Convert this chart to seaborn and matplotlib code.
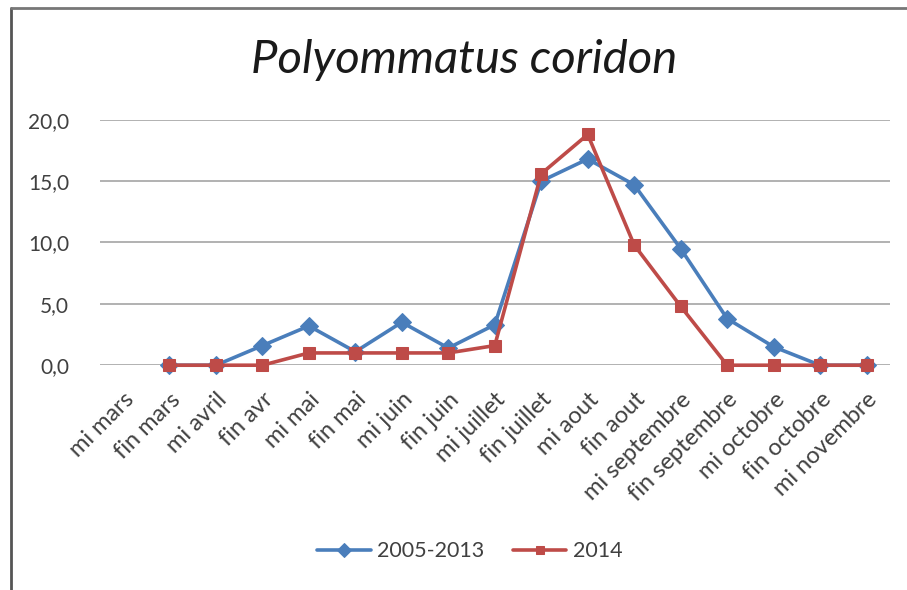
import numpy as np
import pandas as pd
import matplotlib
matplotlib.use("Agg")
import matplotlib.pyplot as plt
from matplotlib.lines import Line2D
import seaborn as sns

# data
periods = ["mi mars", "fin mars", "mi avril", "fin avr", "mi mai", "fin mai",
           "mi juin", "fin juin", "mi juillet", "fin juillet", "mi aout",
           "fin aout", "mi septembre", "fin septembre", "mi octobre",
           "fin octobre", "mi novembre"]
avg_2005_2013 = [np.nan, 0.0, 0.0, 1.6, 3.2, 1.1, 3.5, 1.4, 3.3, 15.0, 16.8,
                 14.7, 9.5, 3.8, 1.5, 0.0, 0.0]
year_2014 = [np.nan, 0.0, 0.0, 0.0, 1.0, 1.0, 1.0, 1.0, 1.6, 15.6, 18.8,
             9.8, 4.8, 0.0, 0.0, 0.0, 0.0]
y_ticks = [0, 5, 10, 15, 20]

BLUE = "#4A7EBB"
RED = "#BE4B48"
TEXT = "#404040"

sns.set_theme(style="white")
plt.rcParams["font.family"] = ["Lato", "DejaVu Sans"]

df = pd.DataFrame({"pos": np.arange(len(periods)),
                   "a": avg_2005_2013, "b": year_2014})

fig = plt.figure(figsize=(9.07, 5.9), dpi=100, facecolor="white")
ax = fig.add_axes([0.110, 0.381, 0.871, 0.416])

sns.lineplot(data=df.dropna(subset=["a"]), x="pos", y="a", ax=ax, color=BLUE,
             linewidth=2.6, marker="D", markersize=9, markeredgecolor=BLUE,
             label="2005-2013", clip_on=False)
sns.lineplot(data=df.dropna(subset=["b"]), x="pos", y="b", ax=ax, color=RED,
             linewidth=2.6, marker="s", markersize=8, markeredgecolor=RED,
             label="2014", clip_on=False)

ax.set_xlim(-0.5, len(periods) - 0.5)
ax.set_ylim(0, 20)
ax.set_yticks(y_ticks)
ax.set_yticklabels([f"{v:.1f}".replace(".", ",") for v in y_ticks],
                   fontsize=15, color=TEXT)
ax.set_xticks(range(len(periods)))
ax.set_xticklabels(periods, rotation=45, ha="right", rotation_mode="anchor",
                   fontsize=17, color=TEXT)
ax.tick_params(axis="y", length=0, pad=22)
ax.tick_params(axis="x", length=0, pad=17)
ax.set_xlabel("")
ax.set_ylabel("")

ax.yaxis.grid(True, color="#ABABAB", linewidth=1.3)
ax.set_axisbelow(True)
for side in ["top", "right", "left", "bottom"]:
    ax.spines[side].set_visible(False)

fig.text(0.512, 0.898, "Polyommatus coridon", fontsize=34, style="italic",
         color="#1a1a1a", ha="center", va="center")

leg = ax.legend(loc="center", bbox_to_anchor=(0.518, 0.066),
                bbox_transform=fig.transFigure, ncol=2, frameon=False,
                fontsize=15.5, handlelength=2.5, columnspacing=1.3,
                handletextpad=0.3, labelcolor=TEXT, markerscale=0.8)

# chart frame (left and top edges)
fig.add_artist(Line2D([0.012, 0.012], [0.0, 0.987], color="#555555",
                      linewidth=2, transform=fig.transFigure))
fig.add_artist(Line2D([0.012, 1.0], [0.987, 0.987], color="#777777",
                      linewidth=2, transform=fig.transFigure))

fig.savefig("out.png", dpi=100, facecolor="white")
